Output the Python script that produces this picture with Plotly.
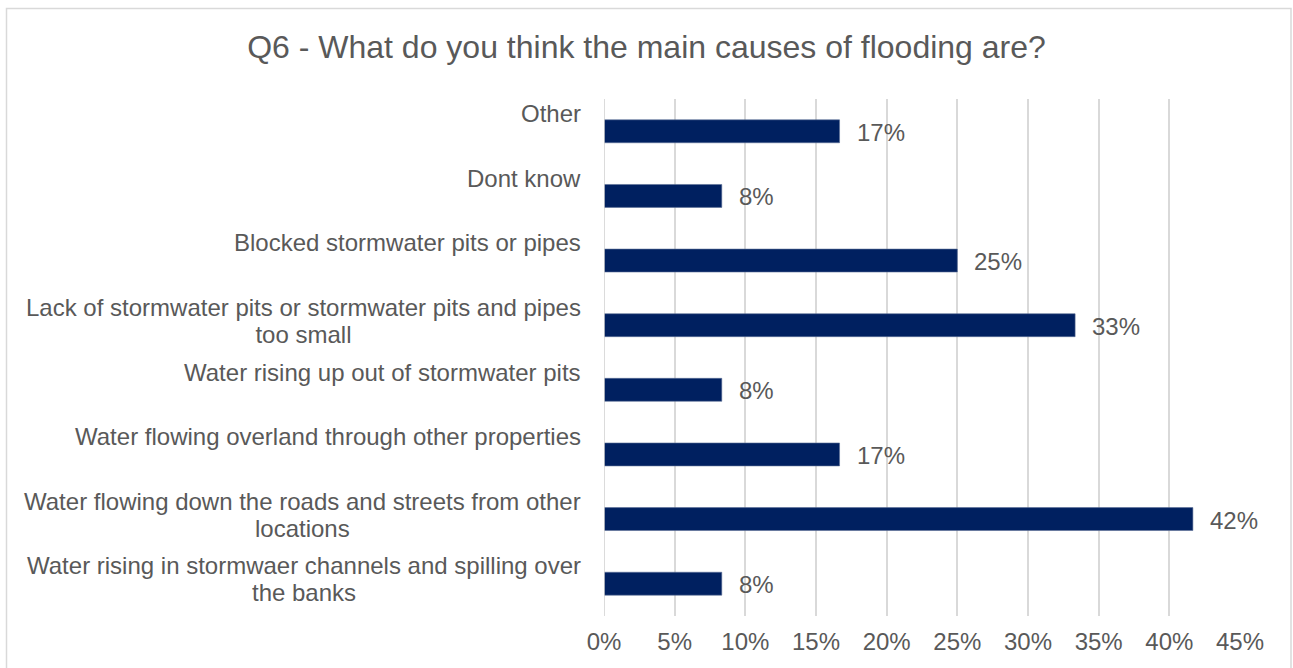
import plotly.graph_objects as go

# Survey responses, listed top to bottom as they appear on the chart
categories = [
    "Other",
    "Dont know",
    "Blocked stormwater pits or pipes",
    "Lack of stormwater pits or stormwater pits and pipes<br>too small",
    "Water rising up out of stormwater pits",
    "Water flowing overland through other properties",
    "Water flowing down the roads and streets from other<br>locations",
    "Water rising in stormwaer channels and spilling over<br>the banks",
]
shares = [1/6, 1/12, 1/4, 1/3, 1/12, 1/6, 5/12, 1/12]
value_labels = ["17%", "8%", "25%", "33%", "8%", "17%", "42%", "8%"]
x_ticks = [0, 0.05, 0.10, 0.15, 0.20, 0.25, 0.30, 0.35, 0.40, 0.45]
x_tick_text = ["0%", "5%", "10%", "15%", "20%", "25%", "30%", "35%", "40%", "45%"]

TEXT = "#595959"
BAR = "#002060"
GRID = "#d9d9d9"
FONT = "Liberation Sans, Arial, sans-serif"

n = len(categories)
ypos = [n - 1 - i for i in range(n)]  # first category at the top

fig = go.Figure()
fig.add_trace(go.Bar(
    x=shares,
    y=ypos,
    orientation="h",
    width=0.355,
    marker=dict(color=BAR, line=dict(color="#5a6f96", width=0.6)),
    hoverinfo="skip",
))

annotations = []
# category labels, top-aligned in each band
for cat, y in zip(categories, ypos):
    annotations.append(dict(
        xref="paper", yref="y", x=0, y=y + 0.5,
        xanchor="right", yanchor="top", align="center",
        xshift=-21, yshift=1,
        text=f'<span style="font-size:24px">{cat.replace("<br>", "</span><br><span style=\"font-size:24px\">")}</span>',
        showarrow=False,
        font=dict(family=FONT, size=20.5, color=TEXT),
    ))
# value labels just past the end of each bar
for v, lab, y in zip(shares, value_labels, ypos):
    annotations.append(dict(
        xref="x", yref="y", x=v, y=y,
        xanchor="left", yanchor="middle",
        xshift=15, yshift=-1,
        text=lab, showarrow=False,
        font=dict(family=FONT, size=24, color=TEXT),
    ))

fig.update_layout(
    width=1293, height=668,
    margin=dict(l=604, r=53, t=99, b=52),
    paper_bgcolor="white", plot_bgcolor="white",
    showlegend=False,
    title=dict(
        text="Q6 - What do you think the main causes of flooding are?",
        x=0.5, xref="container", xanchor="center",
        y=1 - 47 / 668, yref="container", yanchor="middle",
        font=dict(family=FONT, size=32, color=TEXT),
    ),
    xaxis=dict(
        range=[0, 0.45], tickvals=x_ticks, ticktext=x_tick_text,
        showgrid=True, gridcolor=GRID, gridwidth=1.5,
        zeroline=False, showline=False, ticks="",
        ticklabelstandoff=9,
        tickfont=dict(family=FONT, size=24, color=TEXT),
        fixedrange=True,
    ),
    yaxis=dict(
        range=[-0.5, n - 0.5], showticklabels=False, showgrid=False,
        zeroline=False, showline=False, ticks="", fixedrange=True,
    ),
    annotations=annotations,
    shapes=[
        # vertical axis line at 0%
        dict(type="line", xref="x", yref="paper", x0=0, x1=0, y0=0, y1=1,
             line=dict(color="#cfcfcf", width=1.5), layer="above"),
        # outer chart border
        dict(type="rect", xref="paper", yref="paper",
             x0=(6.5 - 604) / 636, x1=(1291 - 604) / 636,
             y0=(616 - 690) / 517, y1=(616 - 8.5) / 517,
             line=dict(color=GRID, width=1.5), fillcolor="rgba(0,0,0,0)",
             layer="below"),
    ],
)

fig.write_html("out.html")
